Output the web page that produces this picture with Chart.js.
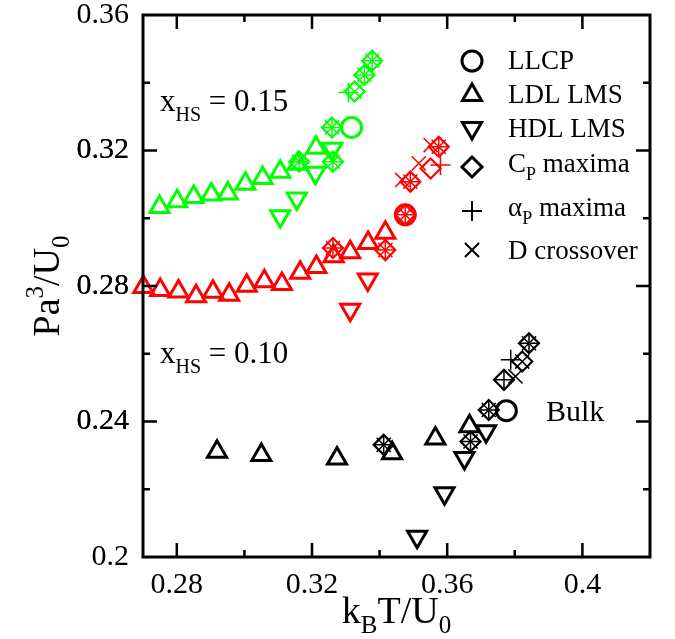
<!DOCTYPE html>
<html>
<head>
<meta charset="utf-8">
<script src="https://cdn.jsdelivr.net/npm/chart.js@4.4.1/dist/chart.umd.min.js"></script>
<style>
  html, body { margin: 0; padding: 0; background: #fff; }
</style>
</head>
<body>
<canvas id="phaseChart" width="675" height="639"></canvas>
<script>
// x_HS = 0.15 (green)
const ldl15X = [0.2749, 0.2801, 0.2850, 0.2902, 0.2951, 0.3003, 0.3054, 0.3106, 0.3158, 0.3212];
const ldl15Y = [0.3033, 0.3050, 0.3063, 0.3070, 0.3073, 0.3102, 0.3119, 0.3137, 0.3161, 0.3208];
const hdl15X = [0.3106, 0.3155, 0.3210, 0.3260];
const hdl15Y = [0.3006, 0.3058, 0.3134, 0.3205];
const llcp15X = [0.3317];
const llcp15Y = [0.3268];
const cp15X = [0.3162, 0.3262, 0.3259, 0.3326, 0.3355, 0.3378];
const cp15Y = [0.3167, 0.3167, 0.3268, 0.3374, 0.3423, 0.3465];
const alpha15X = [0.3162, 0.3262, 0.3259, 0.3308, 0.3355, 0.3378];
const alpha15Y = [0.3167, 0.3167, 0.3268, 0.3371, 0.3423, 0.3465];
const d15X = [0.3162, 0.3262, 0.3259, 0.3326, 0.3355, 0.3378];
const d15Y = [0.3167, 0.3167, 0.3268, 0.3374, 0.3423, 0.3465];

// x_HS = 0.10 (red)
const ldl10X = [0.2701, 0.2751, 0.2805, 0.2857, 0.2907, 0.2955, 0.3007, 0.3059, 0.3111, 0.3165, 0.3213, 0.3264, 0.3313, 0.3366, 0.3417];
const ldl10Y = [0.2797, 0.2788, 0.2784, 0.2770, 0.2783, 0.2774, 0.2801, 0.2814, 0.2806, 0.2839, 0.2856, 0.2888, 0.2900, 0.2927, 0.2957];
const hdl10X = [0.3313, 0.3365];
const hdl10Y = [0.2730, 0.2819];
const llcp10X = [0.3476];
const llcp10Y = [0.3010];
const cp10X = [0.3262, 0.3417, 0.3476, 0.3491, 0.3551, 0.3575];
const cp10Y = [0.2912, 0.2906, 0.3010, 0.3108, 0.3147, 0.3211];
const alpha10X = [0.3262, 0.3417, 0.3476, 0.3491, 0.3580, 0.3575];
const alpha10Y = [0.2912, 0.2906, 0.3010, 0.3108, 0.3157, 0.3211];
const d10X = [0.3262, 0.3417, 0.3476, 0.3467, 0.3491, 0.3516, 0.3551, 0.3575];
const d10Y = [0.2912, 0.2906, 0.3010, 0.3113, 0.3108, 0.3162, 0.3216, 0.3211];

// bulk (black)
const ldl0X = [0.2919, 0.3050, 0.3274, 0.3437, 0.3565, 0.3666];
const ldl0Y = [0.2311, 0.2301, 0.2291, 0.2306, 0.2350, 0.2386];
const hdl0X = [0.3511, 0.3592, 0.3651, 0.3715];
const hdl0Y = [0.2060, 0.2188, 0.2292, 0.2371];
const llcp0X = [0.3775];
const llcp0Y = [0.2432];
const cp0X = [0.3412, 0.3669, 0.3723, 0.3768, 0.3822, 0.3842];
const cp0Y = [0.2331, 0.2341, 0.2434, 0.2523, 0.2577, 0.2631];
const alpha0X = [0.3412, 0.3669, 0.3723, 0.3768, 0.3788, 0.3842];
const alpha0Y = [0.2331, 0.2341, 0.2434, 0.2523, 0.2582, 0.2631];
const d0X = [0.3412, 0.3669, 0.3723, 0.3802, 0.3822, 0.3842];
const d0Y = [0.2331, 0.2341, 0.2434, 0.2533, 0.2577, 0.2631];

const xTicks = [0.28, 0.30, 0.32, 0.34, 0.36, 0.38, 0.40];
const yTicks = [0.22, 0.24, 0.26, 0.28, 0.30, 0.32, 0.34];
const xMajor = [0.28, 0.32, 0.36, 0.40];
const yMajor = [0.20, 0.24, 0.28, 0.32, 0.36];

const SERIF = "'Liberation Serif', 'Times New Roman', serif";

const pts = (xs, ys) => xs.map((x, i) => ({ x: x, y: ys[i] }));
const isMajor = (v, list) => list.some(m => Math.abs(m - v) < 1e-6);
const fmt = v => String(+v.toFixed(2));

function marks(label, xs, ys, color, style, size, width, rot) {
    return {
        label: label,
        data: pts(xs, ys),
        showLine: false,
        clip: false,
        pointStyle: style,
        pointRadius: size,
        pointHoverRadius: size,
        pointBorderWidth: width,
        pointRotation: rot || 0,
        pointBorderColor: color,
        pointBackgroundColor: 'rgba(0,0,0,0)',
        borderColor: color,
        backgroundColor: 'rgba(0,0,0,0)'
    };
}

function group(tag, color, s) {
    return [
        marks('LDL ' + tag, s.ldlX, s.ldlY, color, 'triangle', 11, 3),
        marks('HDL ' + tag, s.hdlX, s.hdlY, color, 'triangle', 11, 3, 180),
        marks('Cp ' + tag, s.cpX, s.cpY, color, 'rectRot', 10, 2.2),
        marks('alpha ' + tag, s.aX, s.aY, color, 'cross', 10, 1.5),
        marks('D ' + tag, s.dX, s.dY, color, 'crossRot', 10, 1.5),
        marks('LLCP ' + tag, s.llX, s.llY, color, 'circle', 10, 3)
    ];
}

const datasets = [].concat(
    group('0.15', '#00ff00', { ldlX: ldl15X, ldlY: ldl15Y, hdlX: hdl15X, hdlY: hdl15Y, cpX: cp15X, cpY: cp15Y, aX: alpha15X, aY: alpha15Y, dX: d15X, dY: d15Y, llX: llcp15X, llY: llcp15Y }),
    group('0.10', '#ff0000', { ldlX: ldl10X, ldlY: ldl10Y, hdlX: hdl10X, hdlY: hdl10Y, cpX: cp10X, cpY: cp10Y, aX: alpha10X, aY: alpha10Y, dX: d10X, dY: d10Y, llX: llcp10X, llY: llcp10Y }),
    group('bulk', '#000000', { ldlX: ldl0X, ldlY: ldl0Y, hdlX: hdl0X, hdlY: hdl0Y, cpX: cp0X, cpY: cp0Y, aX: alpha0X, aY: alpha0Y, dX: d0X, dY: d0Y, llX: llcp0X, llY: llcp0Y })
);

// text with sub/superscripts: parts = [[text, size, dy], ...]
function richWidth(ctx, parts) {
    let w = 0;
    parts.forEach(p => { ctx.font = p[1] + 'px ' + SERIF; w += ctx.measureText(p[0]).width; });
    return w;
}
function richText(ctx, parts, x, y) {
    parts.forEach(p => {
        ctx.font = p[1] + 'px ' + SERIF;
        ctx.fillText(p[0], x, y + p[2]);
        x += ctx.measureText(p[0]).width;
    });
}

function symbol(ctx, style, x, y) {
    const r = style === 'triangle' || style === 'triangleDown' ? 11 : 10;
    ctx.beginPath();
    if (style === 'circle') {
        ctx.arc(x, y, r, 0, Math.PI * 2);
    } else if (style === 'triangle' || style === 'triangleDown') {
        const s = style === 'triangle' ? 1 : -1;
        ctx.moveTo(x, y - s * r);
        ctx.lineTo(x + r * 0.866, y + s * r / 2);
        ctx.lineTo(x - r * 0.866, y + s * r / 2);
        ctx.closePath();
    } else if (style === 'diamond') {
        ctx.moveTo(x, y - r); ctx.lineTo(x + r, y); ctx.lineTo(x, y + r); ctx.lineTo(x - r, y); ctx.closePath();
    } else if (style === 'plus') {
        ctx.moveTo(x - r, y); ctx.lineTo(x + r, y); ctx.moveTo(x, y - r); ctx.lineTo(x, y + r);
    } else {
        const k = r * 0.7071;
        ctx.moveTo(x - k, y - k); ctx.lineTo(x + k, y + k); ctx.moveTo(x + k, y - k); ctx.lineTo(x - k, y + k);
    }
    ctx.lineWidth = (style === 'plus' || style === 'cross') ? 2 : 3;
    ctx.stroke();
}

const decor = {
    id: 'decor',
    afterDraw(chart) {
        const ctx = chart.ctx;
        const a = chart.chartArea;
        const xs = chart.scales.x, ys = chart.scales.y;
        ctx.save();
        ctx.strokeStyle = '#000';
        ctx.fillStyle = '#000';

        // inward ticks on all four sides
        ctx.lineWidth = 2.5;
        ctx.beginPath();
        xTicks.forEach(v => {
            const px = xs.getPixelForValue(v);
            const len = isMajor(v, xMajor) ? 14 : 7;
            ctx.moveTo(px, a.bottom); ctx.lineTo(px, a.bottom - len);
            ctx.moveTo(px, a.top); ctx.lineTo(px, a.top + len);
        });
        yTicks.forEach(v => {
            const py = ys.getPixelForValue(v);
            const len = isMajor(v, yMajor) ? 14 : 7;
            ctx.moveTo(a.left, py); ctx.lineTo(a.left + len, py);
            ctx.moveTo(a.right, py); ctx.lineTo(a.right - len, py);
        });
        ctx.stroke();

        // frame
        ctx.lineWidth = 3;
        ctx.strokeRect(a.left, a.top, a.right - a.left, a.bottom - a.top);

        ctx.textBaseline = 'alphabetic';
        ctx.textAlign = 'left';

        // axis titles
        const xt = [['k', 38, 0], ['B', 25, 10], ['T/U', 38, 0], ['0', 25, 10]];
        richText(ctx, xt, (a.left + a.right) / 2 - richWidth(ctx, xt) / 2, 623);
        const yt = [['Pa', 38, 0], ['3', 25, -16], ['/U', 38, 0], ['0', 25, 10]];
        ctx.save();
        ctx.translate(59, (a.top + a.bottom) / 2);
        ctx.rotate(-Math.PI / 2);
        richText(ctx, yt, -richWidth(ctx, yt) / 2, 0);
        ctx.restore();

        // annotations
        richText(ctx, [['x', 31, 0], ['HS', 20, 10], [' = 0.15', 31, 0]], 160, 111);
        richText(ctx, [['x', 31, 0], ['HS', 20, 10], [' = 0.10', 31, 0]], 160, 363);
        richText(ctx, [['Bulk', 30, 0]], 546, 421);

        // legend
        const rows = [
            ['circle', 61, 69, [['LLCP', 27, 0]]],
            ['triangle', 95, 103, [['LDL LMS', 27, 0]]],
            ['triangleDown', 128, 137, [['HDL LMS', 27, 0]]],
            ['diamond', 167, 172, [['C', 27, 0], ['P', 18, 8], [' maxima', 27, 0]]],
            ['plus', 211, 216, [['\u03b1', 27, 0], ['P', 18, 8], [' maxima', 27, 0]]],
            ['cross', 250, 259, [['D crossover', 27, 0]]]
        ];
        rows.forEach(r => {
            symbol(ctx, r[0], 472, r[1]);
            richText(ctx, r[3], 508, r[2]);
        });
        ctx.restore();
    }
};

const ctx = document.getElementById('phaseChart').getContext('2d');

new Chart(ctx, {
    type: 'scatter',
    data: { datasets: datasets },
    options: {
        responsive: false,
        animation: false,
        events: [],
        layout: { padding: { top: 15, right: 25, left: 0, bottom: 0 } },
        plugins: { legend: { display: false }, tooltip: { enabled: false } },
        scales: {
            x: {
                type: 'linear', min: 0.27, max: 0.42,
                grid: { display: false }, border: { display: false },
                afterBuildTicks: s => { s.ticks = xTicks.map(v => ({ value: v })); },
                afterFit: s => { s.height = 82; s.paddingLeft = 0; s.paddingRight = 0; },
                ticks: {
                    autoSkip: false, maxRotation: 0, padding: 2, color: '#000',
                    font: { family: SERIF, size: 30 },
                    callback: v => isMajor(v, xMajor) ? fmt(v) : ''
                }
            },
            y: {
                type: 'linear', min: 0.2, max: 0.36,
                grid: { display: false }, border: { display: false },
                afterBuildTicks: s => { s.ticks = yMajor.concat(yTicks).sort().map(v => ({ value: v })); },
                afterFit: s => { s.width = 143; s.paddingTop = 0; s.paddingBottom = 0; },
                ticks: {
                    autoSkip: false, padding: 6, color: '#000',
                    font: { family: SERIF, size: 30 },
                    callback: v => isMajor(v, yMajor) ? fmt(v) : ''
                }
            }
        }
    },
    plugins: [decor]
});
</script>
</body>
</html>
